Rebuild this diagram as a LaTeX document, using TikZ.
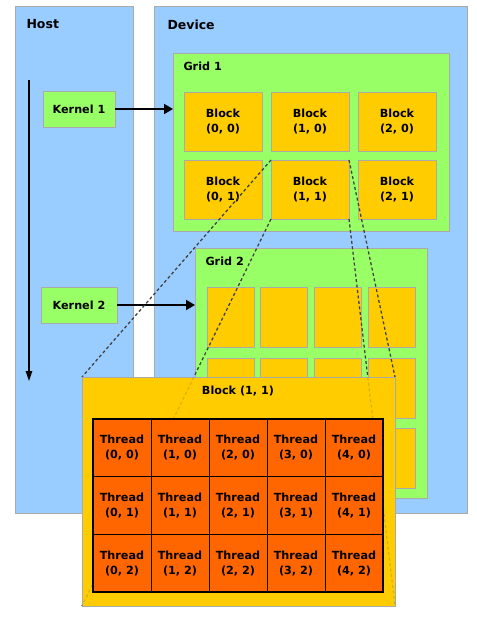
\documentclass[tikz,border=0pt]{standalone}
\usepackage{fontspec}
\setmainfont{DejaVu Sans}
\usetikzlibrary{arrows.meta}
\definecolor{cblue}{RGB}{153,204,255}
\definecolor{cgreen}{RGB}{153,255,102}
\definecolor{cyel}{RGB}{255,204,0}
\definecolor{corange}{RGB}{255,102,0}
\definecolor{cedge}{RGB}{170,170,170}
\begin{document}
\begin{tikzpicture}[x=1pt,y=-1pt,
  box/.style={draw=cedge, line width=0.8pt, inner sep=0pt, outer sep=0pt, anchor=north west},
  panel/.style={box, fill=cblue},
  grid/.style={box, fill=cgreen},
  txt/.style={font=\fontsize{11.2}{15}\selectfont\bfseries},
  blk/.style={box, fill=cyel, minimum width=78pt, minimum height=59pt, align=center, txt},
  sblk/.style={box, fill=cyel, minimum width=47pt, minimum height=60pt},
  kern/.style={box, fill=cgreen},
  thr/.style={draw=black, line width=0.9pt, fill=corange, inner sep=0pt, outer sep=0pt, anchor=north west, minimum width=58pt, minimum height=57.67pt, align=center, txt},
  lbl/.style={font=\fontsize{12.5}{14}\selectfont\bfseries, anchor=west},
  glbl/.style={txt, anchor=west},
  karrow/.style={line width=1.8pt, -{Triangle[length=9pt,width=10pt]}},
  harrow/.style={line width=1.2pt, -{Triangle[length=10pt,width=6.5pt]}},
  dsh/.style={line width=1.2pt, black!75, dash pattern=on 3pt off 2.5pt},
  faint/.style={dsh, opacity=0.2}
]
\useasboundingbox (0,0) rectangle (476,617);
\fill[white] (0,0) rectangle (476,617);
% panels
\node[panel, minimum width=118pt, minimum height=507pt] (host) at (15,6) {};
\node[panel, minimum width=313pt, minimum height=507pt] (dev) at (154,6) {};
\node[lbl] (hostl) at (23,24) {Host};
\node[lbl] (devl) at (164,25) {Device};
% host arrow
\coordinate (ha) at (29,80);
\coordinate (hb) at (29,381);
\draw[harrow] (ha) -- (hb);
% kernels
\node[kern, minimum width=72pt, minimum height=36pt] (k1) at (43,91) {};
\node[txt] (k1t) at (k1.center) {Kernel 1};
\node[kern, minimum width=76pt, minimum height=36pt] (k2) at (41,287) {};
\node[txt] (k2t) at (k2.center) {Kernel 2};
% grid 1
\node[grid, minimum width=276pt, minimum height=178pt] (g1) at (173,53) {};
\node[glbl] (g1l) at (180,66) {Grid 1};
\foreach \i/\x in {0/184,1/271,2/358}{
  \foreach \j/\y in {0/92,1/160}{
    \node[blk] (b\i\j) at (\x,\y) {Block\\(\i, \j)};
  }
}
% grid 2
\node[grid, minimum width=232pt, minimum height=250pt] (g2) at (195,248) {};
\node[glbl] (g2l) at (202,261) {Grid 2};
\foreach \i/\x in {0/207,1/260.7,2/314.3,3/368}{
  \foreach \j/\y in {0/287,1/358,2/428}{
    \node[sblk] (s\i\j) at (\x,\y) {};
  }
}
% kernel arrows
\draw[karrow] (k1.east) -- (k1.east -| g1.west);
\draw[karrow] (k2.east) -- (k2.east -| g2.west);
% big block
\node[box, fill=cyel, minimum width=313pt, minimum height=229pt] (bigb) at (82,377) {};
% dashed connectors
\draw[dsh] (b11.north west) -- (bigb.north west);
\draw[dsh] (b11.south west) -- (bigb.south west);
\draw[dsh] (b11.north east) -- (bigb.north east);
\draw[dsh] (b11.south east) -- (bigb.south east);
\node[box, fill=cyel, minimum width=313pt, minimum height=229pt] (bigc) at (82,377) {};
\draw[faint] (b11.north west) -- (bigb.north west);
\draw[faint] (b11.south west) -- (bigb.south west);
\draw[faint] (b11.north east) -- (bigb.north east);
\draw[faint] (b11.south east) -- (bigb.south east);
\node[txt] (bigl) at (238,391) {Block (1, 1)};
% threads
\foreach \i in {0,...,4}{
  \foreach \j in {0,1,2}{
    \node[thr] (t\i\j) at ({93+58*\i},{419+57.67*\j}) {Thread\\(\i, \j)};
  }
}
\draw[line width=1.3pt] (t00.north west) rectangle (t42.south east);
\end{tikzpicture}
\end{document}
